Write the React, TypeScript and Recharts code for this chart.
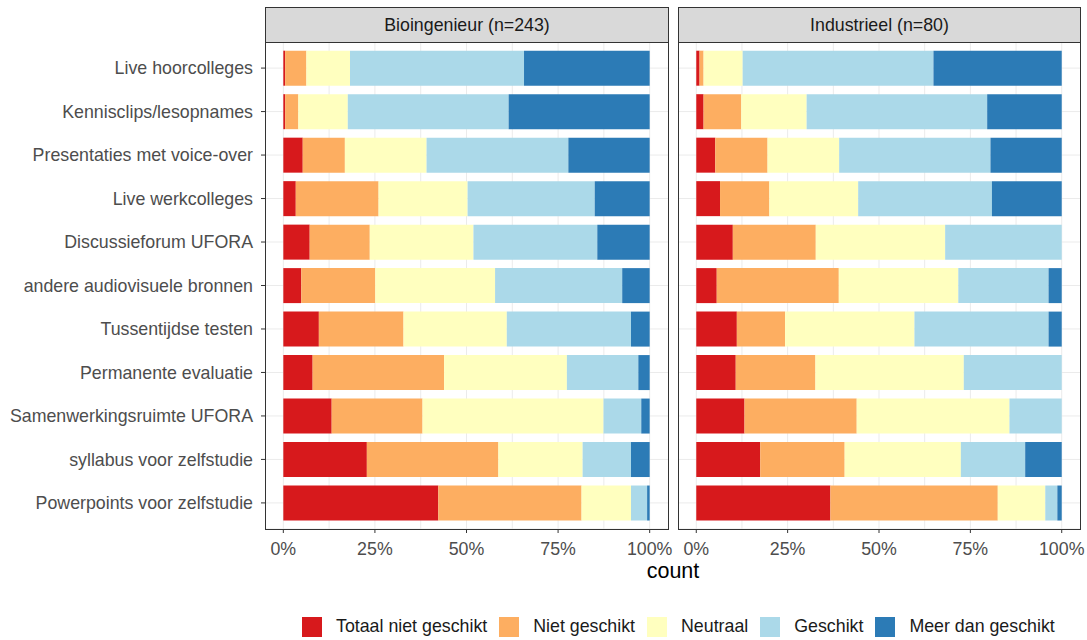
import React from 'react';
import { BarChart, Bar, XAxis, YAxis, CartesianGrid } from 'recharts';

// Categories, top to bottom
const categories = [
  'Live hoorcolleges',
  'Kennisclips/lesopnames',
  'Presentaties met voice-over',
  'Live werkcolleges',
  'Discussieforum UFORA',
  'andere audiovisuele bronnen',
  'Tussentijdse testen',
  'Permanente evaluatie',
  'Samenwerkingsruimte UFORA',
  'syllabus voor zelfstudie',
  'Powerpoints voor zelfstudie',
];

const seriesNames = ['Totaal niet geschikt', 'Niet geschikt', 'Neutraal', 'Geschikt', 'Meer dan geschikt'];
const seriesKeys = ['totaalNiet', 'niet', 'neutraal', 'geschikt', 'meer'];
const seriesColors = ['#D7191C', '#FDAE61', '#FFFFBF', '#ABD9E9', '#2C7BB6'];

const xTicks = [0, 25, 50, 75, 100];
const gridValues = [0, 12.5, 25, 37.5, 50, 62.5, 75, 87.5, 100];

// Bioingenieur (n=243), percentages
const bioTotaalNiet = [0.5, 0.5, 5.3, 3.4, 7.2, 4.9, 9.7, 8.0, 13.2, 22.8, 42.3];
const bioNiet = [5.8, 3.6, 11.5, 22.6, 16.4, 20.2, 23.1, 35.9, 24.8, 35.9, 39.1];
const bioNeutraal = [11.9, 13.5, 22.3, 24.3, 28.3, 32.7, 28.2, 33.5, 49.4, 23.0, 13.5];
const bioGeschikt = [47.5, 43.9, 38.7, 34.7, 33.8, 34.7, 33.9, 19.5, 10.3, 13.2, 4.4];
const bioMeer = [34.3, 38.5, 22.2, 15.0, 14.3, 7.5, 5.1, 3.1, 2.3, 5.1, 0.7];

// Industrieel (n=80), percentages
const indTotaalNiet = [0.9, 2.0, 5.2, 6.5, 10.0, 5.6, 11.1, 10.8, 13.2, 17.5, 36.7];
const indNiet = [1.1, 10.3, 14.3, 13.5, 22.7, 33.4, 13.2, 21.8, 30.7, 23.1, 45.8];
const indNeutraal = [10.7, 17.9, 19.6, 24.3, 35.4, 32.7, 35.4, 40.6, 41.8, 31.8, 13.0];
const indGeschikt = [52.2, 49.4, 41.4, 36.6, 31.9, 24.7, 36.7, 26.8, 14.3, 17.6, 3.3];
const indMeer = [35.1, 20.4, 19.5, 19.1, 0, 3.6, 3.6, 0, 0, 10.0, 1.2];

const buildRows = (cols: number[][]) =>
  categories.map((name, i) => {
    const row: any = { name };
    seriesKeys.forEach((k, j) => {
      row[k] = cols[j][i];
    });
    return row;
  });

const bioData = buildRows([bioTotaalNiet, bioNiet, bioNeutraal, bioGeschikt, bioMeer]);
const indData = buildRows([indTotaalNiet, indNiet, indNeutraal, indGeschikt, indMeer]);

const FONT = '"Liberation Sans", Arial, sans-serif';
const TEXT_SIZE = 17.8;

const PANEL_TOP = 42;
const PANEL_BOTTOM = 529;
const CHART_H = 600;

function Panel({ data, showY, left, width, margin }: any) {
  return (
    <div style={{ position: 'absolute', left, top: 0 }}>
      <BarChart
        width={width}
        height={CHART_H}
        data={data}
        layout="vertical"
        margin={margin}
        barCategoryGap="10%"
      >
        <CartesianGrid stroke="#EBEBEB" verticalValues={gridValues} />
        <XAxis
          type="number"
          domain={[-5, 105]}
          ticks={xTicks}
          allowDataOverflow
          axisLine={false}
          tickLine={{ stroke: '#333333' }}
          tickSize={4}
          tickMargin={9}
          height={30}
          tickFormatter={(v: number) => `${v}%`}
          tick={{ fill: '#4D4D4D', fontSize: TEXT_SIZE, fontFamily: FONT }}
          interval={0}
        />
        <YAxis
          type="category"
          dataKey="name"
          width={showY ? 265 : 0}
          hide={!showY}
          axisLine={false}
          tickLine={{ stroke: '#333333' }}
          tickSize={4}
          tickMargin={8}
          interval={0}
          padding={{ top: 4.35, bottom: 4.35 }}
          tick={{ fill: '#4D4D4D', fontSize: TEXT_SIZE, fontFamily: FONT }}
        />
        {seriesKeys.map((k, j) => (
          <Bar
            key={k}
            dataKey={k}
            name={seriesNames[j]}
            stackId="a"
            fill={seriesColors[j]}
            isAnimationActive={false}
          />
        ))}
      </BarChart>
    </div>
  );
}

function Frame({ left, width, title }: any) {
  return (
    <>
      <div
        style={{
          position: 'absolute',
          left,
          top: 7,
          width,
          height: PANEL_TOP - 7 + 1,
          boxSizing: 'border-box',
          background: '#D9D9D9',
          border: '1px solid #333333',
          display: 'flex',
          alignItems: 'center',
          justifyContent: 'center',
          fontFamily: FONT,
          fontSize: TEXT_SIZE,
          color: '#1A1A1A',
        }}
      >
        {title}
      </div>
      <div
        style={{
          position: 'absolute',
          left,
          top: PANEL_TOP,
          width,
          height: PANEL_BOTTOM - PANEL_TOP + 1,
          boxSizing: 'border-box',
          border: '1px solid #333333',
          pointerEvents: 'none',
        }}
      />
    </>
  );
}

export default function App() {
  return (
    <div
      style={{
        position: 'absolute',
        left: 0,
        top: 0,
        width: 1087,
        height: 640,
        background: '#FFFFFF',
        overflow: 'hidden',
      }}
    >
      <Panel
        data={bioData}
        showY
        left={0}
        width={690}
        margin={{ top: PANEL_TOP, right: 22, bottom: CHART_H - PANEL_BOTTOM - 30, left: 0 }}
      />
      <Panel
        data={indData}
        showY={false}
        left={670}
        width={417}
        margin={{ top: PANEL_TOP, right: 7, bottom: CHART_H - PANEL_BOTTOM - 30, left: 8 }}
      />
      <Frame left={265} width={404} title="Bioingenieur (n=243)" />
      <Frame left={678} width={403} title="Industrieel (n=80)" />

      <div
        style={{
          position: 'absolute',
          left: 265,
          width: 816,
          top: 559,
          textAlign: 'center',
          fontFamily: FONT,
          fontSize: 21.5,
          color: '#000000',
        }}
      >
        count
      </div>

      <div
        style={{
          position: 'absolute',
          left: 302,
          top: 616,
          display: 'flex',
          alignItems: 'center',
          fontFamily: FONT,
          fontSize: TEXT_SIZE,
          color: '#1A1A1A',
        }}
      >
        {seriesNames.map((n, j) => (
          <div key={n} style={{ display: 'flex', alignItems: 'center', marginRight: 12 }}>
            <div style={{ width: 20, height: 20, background: seriesColors[j], marginRight: 14 }} />
            <span>{n}</span>
          </div>
        ))}
      </div>
    </div>
  );
}
